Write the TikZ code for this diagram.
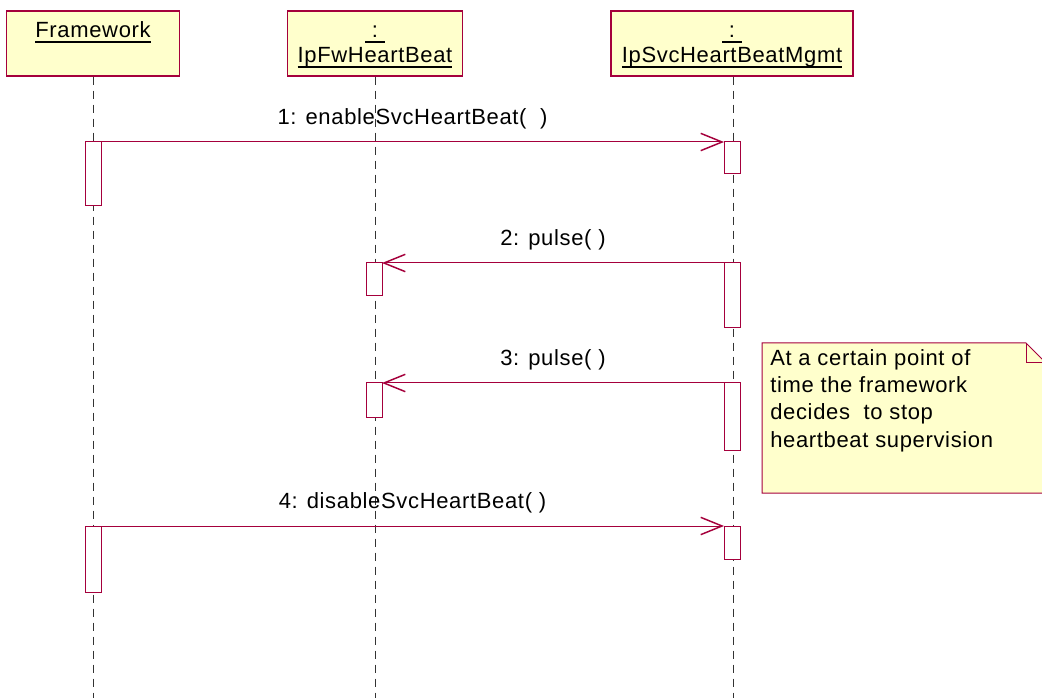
\documentclass[tikz,border=0pt]{standalone}
\usepackage{fontspec}
\setmainfont[LetterSpace=3]{Liberation Sans}
\usepackage{tikz}
\usetikzlibrary{positioning,arrows.meta}
\definecolor{umlred}{RGB}{165,0,60}
\definecolor{umlfill}{RGB}{255,255,204}
\newcommand{\objname}[1]{\setbox0\hbox{#1}\rlap{\rule[-3.8pt]{\wd0}{1.2pt}}\box0}
\newcommand{\highstrut}{\rule{0pt}{16pt}}

\begin{document}
\begin{tikzpicture}[
    x=0.75pt, y=-0.75pt,
    obj/.style={draw=umlred, fill=umlfill, line width=0.9pt, inner sep=0pt,
                minimum height=48.75pt, align=center,
                font=\fontsize{16.5}{18.75}\selectfont},
    life/.style={draw=black!80, dash pattern=on 6pt off 4.5pt, line width=0.6pt},
    act/.style={draw=umlred, fill=white, line width=0.75pt, inner sep=0pt,
                outer sep=0pt, minimum width=12pt, anchor=north},
    msg/.style={draw=umlred, line width=0.75pt,
                -{Straight Barb[length=16pt, width=13pt, line width=1.1pt]}},
    lbl/.style={font=\fontsize{16.5}{18.75}\selectfont, above=7pt, inner sep=2pt},
    note/.style={draw=umlred, fill=umlfill, line width=0.75pt}
  ]
  \path[use as bounding box, fill=white] (0,0) rectangle (1042,698);
  \coordinate (bot) at (0,698);

  % Objects
  \node[obj, minimum width=129.75pt] (fw) at (93,43.5)
    {\highstrut\objname{Framework}\\\strut};
  \node[obj, minimum width=131.25pt] (fwhb) at (375,43.5)
    {\highstrut\objname{~:~}\\\strut\objname{IpFwHeartBeat}};
  \node[obj, minimum width=181.5pt] (svchb) at (732,43.5)
    {\highstrut\objname{~:~}\\\strut\objname{IpSvcHeartBeatMgmt}};

  % Lifelines
  \draw[life] (fw.south) -- (fw.south |- bot);
  \draw[life] (fwhb.south) -- (fwhb.south |- bot);
  \draw[life] ([xshift=0.75pt]svchb.south) -- ([xshift=0.75pt]svchb.south |- bot);

  % Activations
  \node[act, minimum height=48pt] (f1) at (93,142) {};
  \node[act, minimum height=24pt] (s1) at (732,142) {};
  \node[act, minimum height=24.75pt] (i2) at (374,263) {};
  \node[act, minimum height=48.75pt] (s2) at (732,263) {};
  \node[act, minimum height=25.5pt] (i3) at (374,383) {};
  \node[act, minimum height=50.25pt] (s3) at (732,383) {};
  \node[act, minimum height=49.5pt] (f4) at (93,526) {};
  \node[act, minimum height=24.75pt] (s4) at (732,526) {};

  % Messages
  \draw[msg] (f1.north east) -- node[lbl] (m1) {1: enableSvcHeartBeat(\ \ )} (s1.north west);
  \draw[msg] (s2.north west) -- node[lbl] (m2) {2: pulse(\ )} (i2.north east);
  \draw[msg] (s3.north west) -- node[lbl] (m3) {3: pulse(\ )} (i3.north east);
  \draw[msg] (f4.north east) -- node[lbl] (m4) {4: disableSvcHeartBeat(\ )} (s4.north west);

  % Note
  \path[note] (762,343) -- (1026,343) -- (1046,363) -- (1046,493) -- (762,493) -- cycle;
  \draw[umlred, line width=0.75pt] (1026,343) -- (1026,363) -- (1046,363);
  \node[anchor=north west, inner sep=0pt, align=left,
        font=\fontsize{16.5}{20.5}\selectfont] (notetext) at (770,349)
    {At a certain point of\\time the framework\\decides\ \ to stop\\heartbeat supervision};
\end{tikzpicture}
\end{document}
